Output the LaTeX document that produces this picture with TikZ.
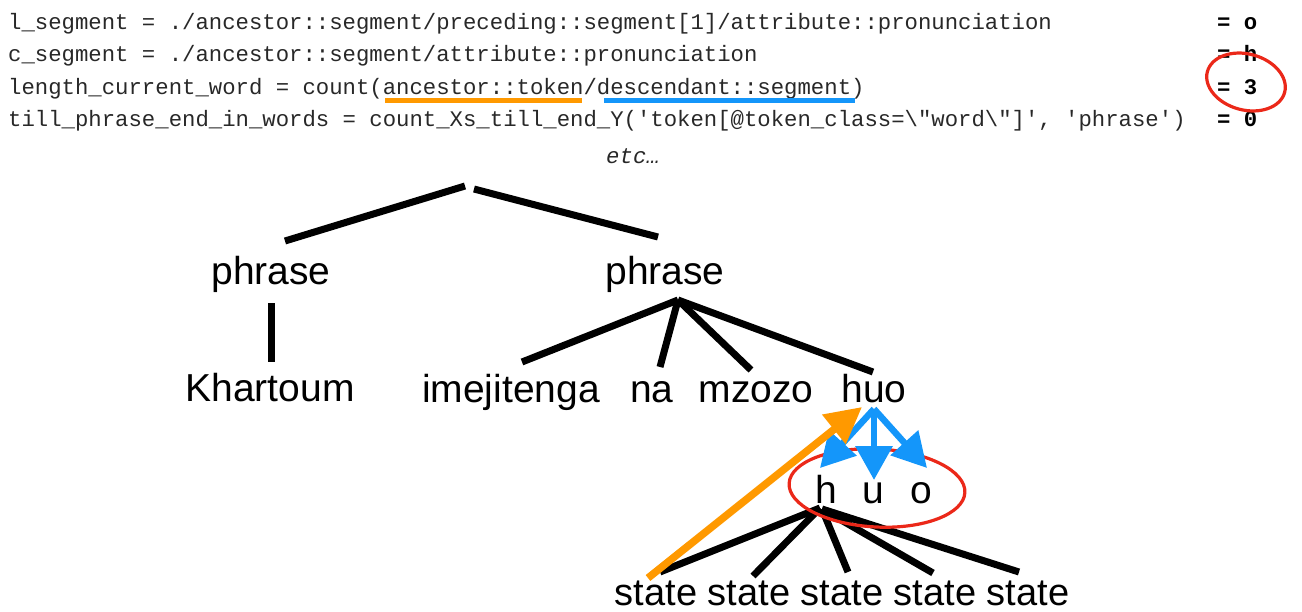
\documentclass[tikz,border=0pt]{standalone}
\usepackage{fontspec}
\setmainfont{Liberation Sans}
\setmonofont{Liberation Mono}
\usetikzlibrary{arrows.meta,calc}
\definecolor{codeink}{RGB}{40,40,40}
\definecolor{uorange}{RGB}{255,153,0}
\definecolor{ublue}{RGB}{20,150,250}
\definecolor{redink}{RGB}{235,40,25}
\begin{document}
\begin{tikzpicture}[x=1pt,y=-1pt,
  code/.style={font=\fontsize{22.3}{26}\selectfont\ttfamily, text=codeink, anchor=base west, inner sep=0pt},
  val/.style={font=\fontsize{22.3}{26}\selectfont\ttfamily\bfseries, anchor=base west, inner sep=0pt},
  word/.style={font=\fontsize{39}{44}\selectfont, anchor=base, inner sep=0pt},
  stateword/.style={font=\fontsize{38}{44}\selectfont, anchor=base, inner sep=0pt},
  treeline/.style={line width=7pt, black},
  blueline/.style={line width=6.5pt, ublue, -{Triangle[length=34pt,width=36pt]}},
  orangeline/.style={line width=7.5pt, uorange, -{Triangle[length=36pt,width=36pt]}},
  redmark/.style={line width=3.2pt, redink}
]
\useasboundingbox (0,0) rectangle (1302,611);

% code lines
\node[code] (c1) at (8,29) {l\_segment = ./ancestor::segment/preceding::segment[1]/attribute::pronunciation};
\node[code] (c2) at (8,61) {c\_segment = ./ancestor::segment/attribute::pronunciation};
\node[code] (c3) at (8,94) {length\_current\_word = count(ancestor::token/descendant::segment)};
\node[code] (c4) at (8,126) {till\_phrase\_end\_in\_words = count\_Xs\_till\_end\_Y('token[@token\_class=\textbackslash"word\textbackslash"]', 'phrase')};
\node[val] (v1) at (1217,29) {= o};
\node[val] (v2) at (1217,61) {= h};
\node[val] (v3) at (1217,94) {= 3};
\node[val] (v4) at (1217,126) {= 0};
\node[font=\fontsize{22.3}{26}\selectfont\ttfamily\itshape, text=codeink, anchor=base, inner sep=0pt] (etc) at (633,163) {etc…};

% underlines
\coordinate (uo1) at (385,100);
\coordinate (uo2) at (582,100);
\coordinate (ub1) at (604,100);
\coordinate (ub2) at (855,100);
\draw[line width=5pt, uorange] (uo1) -- (uo2);
\draw[line width=5pt, ublue] (ub1) -- (ub2);

% red mark around value
\draw[redmark, rotate around={-15:(1246,82)}] (1246,82) ellipse [x radius=40, y radius=28];

% tree nodes
\coordinate (root) at (469,187);
\node[word] (p1) at (271,284) {phrase};
\node[word] (p2) at (665,284) {phrase};
\node[word] (kh) at (270,401) {Khartoum};
\node[word] (im) at (511,402) {imejitenga};
\node[word] (na) at (652,402) {na};
\node[word] (mz) at (756,402) {mzozo};
\node[word] (huo) at (874,402) {huo};
\node[word] (sh) at (826,503) {h};
\node[word] (su) at (873,503) {u};
\node[word] (so) at (921,503) {o};
\node[stateword] (s1) at (656,605) {state};
\node[stateword] (s2) at (749,605) {state};
\node[stateword] (s3) at (842,605) {state};
\node[stateword] (s4) at (935,605) {state};
\node[stateword] (s5) at (1028,605) {state};

% tree lines
\draw[treeline] ($(root)+(-4,-1)$) -- ($(p1.base)+(14,-43)$);
\draw[treeline] ($(root)+(5,2)$) -- ($(p2.base)+(-7,-47)$);
\draw[treeline] ($(p1.base)+(0,19)$) -- ($(kh.base)+(1,-39)$);
\draw[treeline] ($(p2.base)+(13,16)$) -- ($(im.base)+(11,-40)$);
\draw[treeline] ($(p2.base)+(13,16)$) -- ($(na.base)+(8,-35)$);
\draw[treeline] ($(p2.base)+(13,16)$) -- ($(mz.base)+(-5,-32)$);
\draw[treeline] ($(p2.base)+(13,16)$) -- ($(huo.base)+(-1,-30)$);
\draw[treeline] ($(sh.base)+(-6,5)$) -- ($(s1.base)+(4,-33)$);
\draw[treeline] ($(sh.base)+(-6,5)$) -- ($(s2.base)+(4,-29)$);
\draw[treeline] ($(sh.base)+(-4,6)$) -- ($(s3.base)+(6,-33)$);
\draw[treeline] ($(sh.base)+(-4,6)$) -- ($(s4.base)+(-2,-32)$);
\draw[treeline] ($(sh.base)+(-4,6)$) -- ($(s5.base)+(-9,-33)$);

% red mark around segments
\draw[redmark, rotate around={-3:(877,488)}] (877,488) ellipse [x radius=88, y radius=39];

% blue arrows
\draw[blueline] ($(huo.base)+(0,7)$) -- ($(sh.base)+(-6,-35)$);
\draw[blueline] ($(huo.base)+(0,7)$) -- ($(su.base)+(1,-23)$);
\draw[blueline] ($(huo.base)+(0,7)$) -- ($(so.base)+(6,-35)$);

% orange arrow
\draw[orangeline] ($(s1.base)+(-8,-27)$) -- ($(huo.base)+(-12,5)$);
\end{tikzpicture}
\end{document}
